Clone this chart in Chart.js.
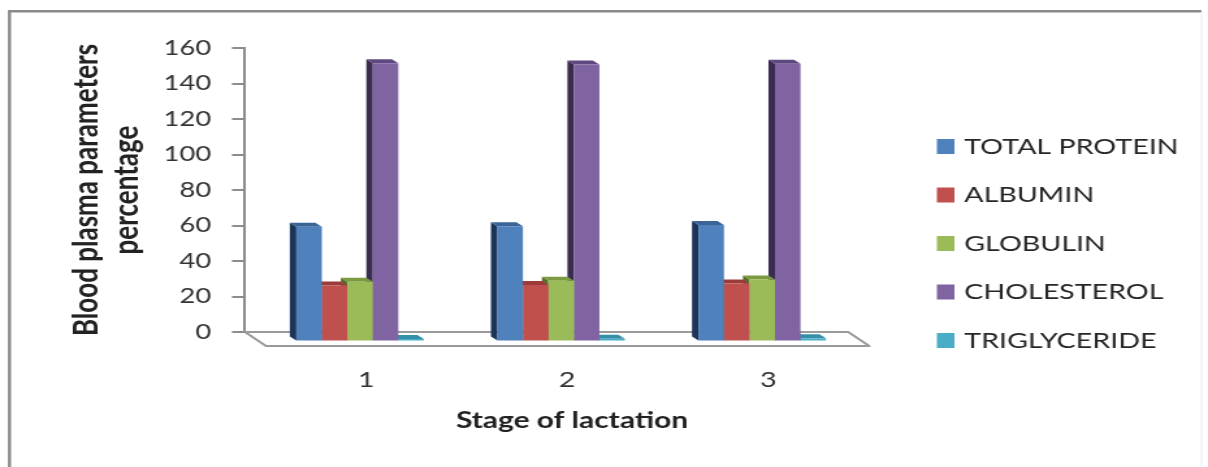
<!DOCTYPE html>
<html>
<head>
<meta charset="utf-8">
<script src="https://cdn.jsdelivr.net/npm/chart.js@4.4.1/dist/chart.umd.min.js"></script>
<style>
  html, body { margin: 0; padding: 0; background: #fff; }
  /* the original picture is stretched sideways, so the canvas is drawn narrower and widened by css */
  #chart { display: block; width: 1208px !important; height: 467px !important; }
</style>
</head>
<body>
<canvas id="chart" width="929" height="467" style="width:1208px;height:467px"></canvas>
<script>
// Values
const stages = ['1', '2', '3'];
const seriesNames = ['TOTAL PROTEIN', 'ALBUMIN', 'GLOBULIN', 'CHOLESTEROL', 'TRIGLYCERIDE'];
const totalProtein = [64.6, 65.0, 65.6];
const albumin = [31.6, 31.8, 32.7];
const globulin = [33.6, 34.2, 35.0];
const cholesterol = [156.8, 156.1, 156.5];
const triglyceride = [1.4, 1.5, 1.8];
const yTicks = [0, 20, 40, 60, 80, 100, 120, 140, 160];

const seriesValues = [totalProtein, albumin, globulin, cholesterol, triglyceride];

// Office 2007 style colours: front, left side, top
const faceColors = ['#4F81BD', '#C0504D', '#9BBB59', '#8064A2', '#4BACC6'];
const sideColors = ['#1B3457', '#6A2422', '#56702A', '#3A2B50', '#1E5A6B'];
const topColors = ['#3B6497', '#9C3B38', '#7C9A40', '#5E4880', '#3490A9'];

// 3D look (canvas px)
const BAR_SHIFT = { x: 11.2, y: 9.5 };
const FACE = { x: -5, y: -4 };
const FLOOR = { x: 16.2, y: 14 };
const LEGEND = { x: 720.5, y: 146.5, step: 48.5, w: 13.5, h: 15, gap: 21 };

function poly(ctx, pts) {
  ctx.beginPath();
  ctx.moveTo(pts[0][0], pts[0][1]);
  for (let k = 1; k < pts.length; k++) ctx.lineTo(pts[k][0], pts[k][1]);
  ctx.closePath();
  ctx.fill();
}

const threeD = {
  id: 'threeD',
  beforeDraw(chart) {
    const ctx = chart.ctx;
    ctx.save();
    ctx.fillStyle = '#fff';
    ctx.fillRect(0, 0, chart.width, chart.height);
    // outer frame
    ctx.strokeStyle = '#8A8A8A';
    ctx.lineWidth = 2.4;
    ctx.beginPath();
    ctx.moveTo(7.3, chart.height + 5);
    ctx.lineTo(7.3, 11.3);
    ctx.lineTo(924, 11.3);
    ctx.stroke();
    ctx.strokeStyle = '#EEEEEE';
    ctx.lineWidth = 1;
    ctx.beginPath();
    ctx.moveTo(924, 12);
    ctx.lineTo(924, chart.height);
    ctx.stroke();
    ctx.restore();
  },
  beforeDatasetsDraw(chart) {
    const ctx = chart.ctx;
    const a = chart.chartArea;
    // floor
    ctx.save();
    ctx.strokeStyle = '#9A9A9A';
    ctx.lineWidth = 2;
    ctx.lineJoin = 'round';
    ctx.beginPath();
    ctx.moveTo(a.left, a.bottom);
    ctx.lineTo(a.right, a.bottom);
    ctx.lineTo(a.right + FLOOR.x, a.bottom + FLOOR.y);
    ctx.lineTo(a.left + FLOOR.x, a.bottom + FLOOR.y);
    ctx.closePath();
    ctx.stroke();
    ctx.restore();

    // bars sit in front of the back wall: shift, then draw side and top faces right to left
    ctx.save();
    ctx.translate(BAR_SHIFT.x, BAR_SHIFT.y);
    const bars = [];
    chart.getSortedVisibleDatasetMetas().forEach(function (meta) {
      meta.data.forEach(function (el) { bars.push({ el: el, i: meta.index }); });
    });
    bars.sort(function (p, q) { return q.el.x - p.el.x; });
    bars.forEach(function (b) {
      const el = b.el;
      const l = el.x - el.width / 2, r = el.x + el.width / 2, t = el.y, bot = el.base;
      ctx.fillStyle = sideColors[b.i];
      poly(ctx, [[l, t], [l + FACE.x, t + FACE.y], [l + FACE.x, bot + FACE.y], [l, bot]]);
      ctx.fillStyle = topColors[b.i];
      poly(ctx, [[l, t], [r, t], [r + FACE.x, t + FACE.y], [l + FACE.x, t + FACE.y]]);
    });
  },
  afterDatasetsDraw(chart) {
    chart.ctx.restore();
  },
  afterDraw(chart) {
    const ctx = chart.ctx;
    ctx.save();
    ctx.font = '22px Lato';
    ctx.textBaseline = 'middle';
    seriesNames.forEach(function (name, i) {
      const y = LEGEND.y + i * LEGEND.step;
      ctx.fillStyle = faceColors[i];
      ctx.fillRect(LEGEND.x, y - LEGEND.h / 2, LEGEND.w, LEGEND.h);
      ctx.fillStyle = '#262626';
      ctx.fillText(name, LEGEND.x + LEGEND.gap, y);
    });
    ctx.restore();
  }
};

new Chart(document.getElementById('chart'), {
  type: 'bar',
  data: {
    labels: stages,
    datasets: seriesNames.map(function (name, i) {
      return {
        label: name,
        data: seriesValues[i],
        backgroundColor: faceColors[i],
        borderWidth: 0
      };
    })
  },
  options: {
    responsive: false,
    animation: false,
    devicePixelRatio: 1,
    layout: { padding: { left: 0, top: 48, right: 276.7, bottom: 0 } },
    datasets: { bar: { categoryPercentage: 0.634, barPercentage: 1, clip: false } },
    plugins: { legend: { display: false }, tooltip: { enabled: false } },
    scales: {
      x: {
        grid: { display: false, drawTicks: false },
        border: { display: false },
        ticks: { font: { family: 'Lato', size: 22 }, color: '#333', padding: 34.5, labelOffset: 15.8 },
        title: {
          display: true,
          text: '       Stage of lactation',
          font: { family: 'Lato', size: 23, weight: 'bold' },
          color: '#222',
          padding: { top: 0, bottom: 32.8 }
        },
        afterFit: function (s) { s.height = 135; }
      },
      y: {
        min: 0,
        max: 160,
        afterBuildTicks: function (s) { s.ticks = yTicks.map(function (v) { return { value: v }; }); },
        grid: { drawOnChartArea: false, drawTicks: true, tickLength: 10, color: '#8C8C8C', lineWidth: 2 },
        border: { display: true, color: '#8C8C8C', width: 2 },
        ticks: { font: { family: 'Lato', size: 21 }, color: '#333', padding: 16 },
        title: {
          display: true,
          text: ['Blood plasma parameters', 'percentage'],
          font: { family: 'Lato', size: 26, weight: 'bold' },
          color: '#222',
          padding: { top: 51.2, bottom: 0 }
        },
        afterFit: function (s) { s.width = 188.4; }
      }
    }
  },
  plugins: [threeD]
});
</script>
</body>
</html>
